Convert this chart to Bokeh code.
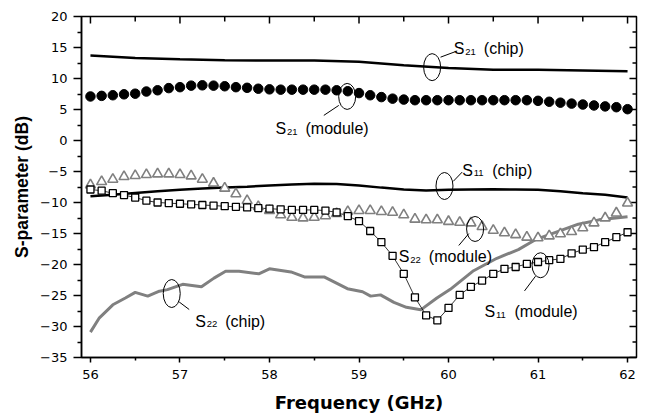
from bokeh.plotting import figure
from bokeh.models import Range1d, FixedTicker
from bokeh.core.properties import value
from bokeh.embed import file_html
from bokeh.resources import INLINE

# ---------------- data ----------------
freq_module = [56.0, 56.125, 56.25, 56.375, 56.5, 56.625, 56.75, 56.875,
               57.0, 57.125, 57.25, 57.375, 57.5, 57.625, 57.75, 57.875,
               58.0, 58.125, 58.25, 58.375, 58.5, 58.625, 58.75, 58.875,
               59.0, 59.125, 59.25, 59.375, 59.5, 59.625, 59.75, 59.875,
               60.0, 60.125, 60.25, 60.375, 60.5, 60.625, 60.75, 60.875,
               61.0, 61.125, 61.25, 61.375, 61.5, 61.625, 61.75, 61.875, 62.0]

s21_module = [7.1, 7.2, 7.3, 7.45, 7.55, 7.9, 8.1, 8.45, 8.6, 8.85,
              8.9, 8.85, 8.75, 8.6, 8.5, 8.35, 8.25, 8.2, 8.2, 8.2,
              8.2, 8.2, 8.1, 7.95, 7.65, 7.3, 7.0, 6.75, 6.6, 6.5,
              6.5, 6.5, 6.5, 6.5, 6.5, 6.5, 6.5, 6.5, 6.5, 6.5,
              6.4, 6.25, 6.1, 5.95, 5.8, 5.65, 5.5, 5.37, 5.05]

s22_module = [-7.17, -6.64, -6.26, -5.83, -5.67, -5.51, -5.4, -5.4, -5.5, -5.72,
              -6.26, -6.9, -7.7, -8.6, -9.7, -10.66, -11.3, -12.0, -12.4, -12.5,
              -12.4, -12.15, -11.8, -11.46, -11.3, -11.3, -11.46, -11.6, -12.0, -12.7,
              -12.8, -12.8, -13.07, -13.2, -13.3, -13.9, -14.5, -14.9, -15.2, -15.6,
              -15.7, -15.4, -15.05, -14.7, -14.1, -13.3, -12.5, -11.7, -10.1]

s11_module = [-7.9, -8.1, -8.5, -8.8, -9.2, -9.7, -10.0, -10.1, -10.2, -10.3,
              -10.4, -10.5, -10.6, -10.7, -10.8, -10.9, -11.0, -11.1, -11.2, -11.2,
              -11.2, -11.3, -11.6, -12.2, -13.0, -14.6, -16.4, -18.6, -21.5, -25.3,
              -28.2, -29.0, -27.0, -24.9, -23.6, -22.6, -21.5, -20.7, -20.4, -19.9,
              -19.6, -19.3, -19.1, -18.2, -17.6, -17.2, -16.4, -15.6, -14.8]

freq_s21_chip = [56.0, 56.5, 57.0, 57.5, 58.0, 58.5, 59.0, 59.5, 60.0, 60.5, 61.0, 61.5, 62.0]
s21_chip = [13.7, 13.3, 13.1, 12.95, 12.9, 12.9, 12.7, 12.15, 11.7, 11.4, 11.4, 11.3, 11.15]

freq_s11_chip = [56.0, 56.25, 56.5, 56.75, 57.0, 57.25, 57.5, 57.75, 58.0, 58.25,
                 58.5, 58.75, 59.0, 59.25, 59.5, 59.75, 60.0, 60.25, 60.5, 60.75,
                 61.0, 61.25, 61.5, 61.75, 62.0]
s11_chip = [-9.0, -8.75, -8.45, -8.2, -7.95, -7.75, -7.6, -7.45, -7.25, -7.1,
            -6.97, -7.0, -7.25, -7.6, -7.9, -8.05, -7.95, -7.9, -7.88, -7.9,
            -7.95, -8.2, -8.5, -8.75, -9.2]

freq_s22_chip = [56.0, 56.1, 56.25, 56.39, 56.5, 56.64, 56.77, 56.86, 57.03, 57.24,
                 57.38, 57.51, 57.66, 57.88, 58.0, 58.24, 58.39, 58.61, 58.87, 59.04,
                 59.13, 59.24, 59.39, 59.53, 59.69, 59.72, 59.87, 60.02, 60.28, 60.54,
                 60.78, 60.97, 61.18, 61.45, 61.68, 62.0]
s22_chip = [-30.9, -28.6, -26.5, -25.4, -24.5, -25.1, -24.3, -24.05, -23.2, -23.6,
            -22.2, -21.1, -21.1, -21.5, -20.7, -21.2, -22.0, -22.0, -23.9, -24.4,
            -25.1, -24.9, -26.1, -26.9, -27.3, -27.0, -25.4, -24.0, -21.0, -19.0,
            -17.6, -16.0, -14.9, -13.5, -12.8, -12.3]

x_ticks = [56, 57, 58, 59, 60, 61, 62]
x_minor = [56.5, 57.5, 58.5, 59.5, 60.5, 61.5]
y_ticks = [-35, -30, -25, -20, -15, -10, -5, 0, 5, 10, 15, 20]
y_minor = [-32.5, -27.5, -22.5, -17.5, -12.5, -7.5, -2.5, 2.5, 7.5, 12.5, 17.5]

# annotations: label anchor (left of "S", baseline), subscript, rest of text
ann_x = [60.059, 58.067, 60.153, 59.445, 60.402, 57.17]
ann_y = [14.80, 1.905, -4.81, -18.75, -27.65, -29.15]
ann_sub = ["21", "21", "11", "22", "11", "22"]
ann_rest = ["(chip)", "(module)", "(chip)", "(module)", "(module)", "(chip)"]
ell_x = [59.817, 58.868, 59.955, 60.297, 61.028, 56.908]
ell_y = [11.83, 7.11, -7.34, -14.27, -20.12, -24.68]
ell_h = [27, 26, 27, 25, 25, 28]
lead_x0 = [59.911, 58.607, 60.053, 60.115, 60.849, 56.991]
lead_y0 = [13.442, 4.048, -6.587, -16.93, -24.26, -26.04]
lead_x1 = [60.097, 58.774, 60.153, 60.227, 60.972, 57.103]
lead_y1 = [14.441, 5.659, -5.089, -15.01, -21.89, -27.26]

X0, X1, Y0, Y1 = 55.9, 62.1, -35, 20

# ---------------- figure ----------------
p = figure(width=648, height=416, x_range=Range1d(X0, X1), y_range=Range1d(Y0, Y1),
           output_backend="svg", toolbar_location=None,
           min_border_left=81, min_border_right=12, min_border_top=16, min_border_bottom=59,
           background_fill_color="white", border_fill_color="white")
p.xgrid.visible = False
p.ygrid.visible = False
p.outline_line_color = "black"
p.outline_line_width = 1.5

xa = p.xaxis[0]
xa.ticker = FixedTicker(ticks=x_ticks, minor_ticks=x_minor)
xa.axis_label = "Frequency (GHz)"
xa.axis_label_text_font = "DejaVu Sans"
xa.axis_label_text_font_style = "bold"
xa.axis_label_text_font_size = "18px"
xa.axis_label_text_color = "black"
xa.axis_label_standoff = 10
xa.major_label_text_font = "DejaVu Sans"
xa.major_label_text_font_size = "13px"
xa.major_label_text_color = "black"
xa.major_label_standoff = 7
xa.major_tick_out = 5
xa.major_tick_in = 0
xa.minor_tick_out = 3
xa.minor_tick_in = 0

ya = p.yaxis[0]
ya.ticker = FixedTicker(ticks=y_ticks, minor_ticks=y_minor)
ya.axis_label = "S-parameter (dB)"
ya.axis_label_text_font = "Liberation Sans"
ya.axis_label_text_font_style = "bold"
ya.axis_label_text_font_size = "17.5px"
ya.axis_label_text_color = "black"
ya.axis_label_standoff = 5
ya.major_label_text_font = "DejaVu Sans"
ya.major_label_text_font_size = "13px"
ya.major_label_text_color = "black"
ya.major_label_standoff = 6
ya.major_tick_out = 8
ya.major_tick_in = 0
ya.minor_tick_out = 4
ya.minor_tick_in = 0

for ax in (xa, ya):
    ax.axis_line_width = 1.5
    ax.axis_line_color = "black"
    ax.major_tick_line_width = 1.5
    ax.major_tick_line_color = "black"
    ax.minor_tick_line_width = 1.5
    ax.minor_tick_line_color = "black"

# inward ticks on the top and right frame edges
p.ray(x=x_ticks, y=[Y1] * len(x_ticks), length=7, length_units="screen",
      angle=-90, angle_units="deg", line_color="black", line_width=1.5)
p.ray(x=x_minor, y=[Y1] * len(x_minor), length=5, length_units="screen",
      angle=-90, angle_units="deg", line_color="black", line_width=1.5)
p.ray(x=[X1] * len(y_ticks), y=y_ticks, length=7, length_units="screen",
      angle=180, angle_units="deg", line_color="black", line_width=1.5)
p.ray(x=[X1] * len(y_minor), y=y_minor, length=4, length_units="screen",
      angle=180, angle_units="deg", line_color="black", line_width=1.5)

# ---------------- data marks ----------------
p.line(freq_s22_chip, s22_chip, line_color="#808080", line_width=3)
p.line(freq_s21_chip, s21_chip, line_color="black", line_width=2.5)
p.line(freq_s11_chip, s11_chip, line_color="black", line_width=2.5)
p.line(freq_module, s11_module, line_color="black", line_width=0.8)
p.scatter(freq_module, s21_module, marker="circle", size=9.5, fill_color="black", line_color="black")
p.scatter(freq_module, s22_module, marker="triangle", size=10, fill_color="white",
          line_color="#808080", line_width=1.6)
p.scatter(freq_module, s11_module, marker="square", size=7, fill_color="white",
          line_color="black", line_width=1.3)

# ---------------- annotations ----------------
p.ellipse(ell_x, ell_y, width=17, height=ell_h, width_units="screen", height_units="screen",
          fill_color=None, line_color="black", line_width=1)
p.segment(lead_x0, lead_y0, lead_x1, lead_y1, line_color="black", line_width=1)
lab_font = value("Liberation Sans")
p.text(ann_x, ann_y, text=["S"] * len(ann_x), text_font=lab_font, text_font_size=value("16px"),
       text_align="left", text_baseline="alphabetic", text_color="black")
p.text(ann_x, ann_y, text=ann_sub, text_font=lab_font, text_font_size=value("9.5px"),
       text_align="left", text_baseline="alphabetic", text_color="black", x_offset=11.5, y_offset=3)
p.text(ann_x, ann_y, text=ann_rest, text_font=lab_font, text_font_size=value("16px"),
       text_align="left", text_baseline="alphabetic", text_color="black", x_offset=30)

open("out.html", "w").write(file_html(p, INLINE))
